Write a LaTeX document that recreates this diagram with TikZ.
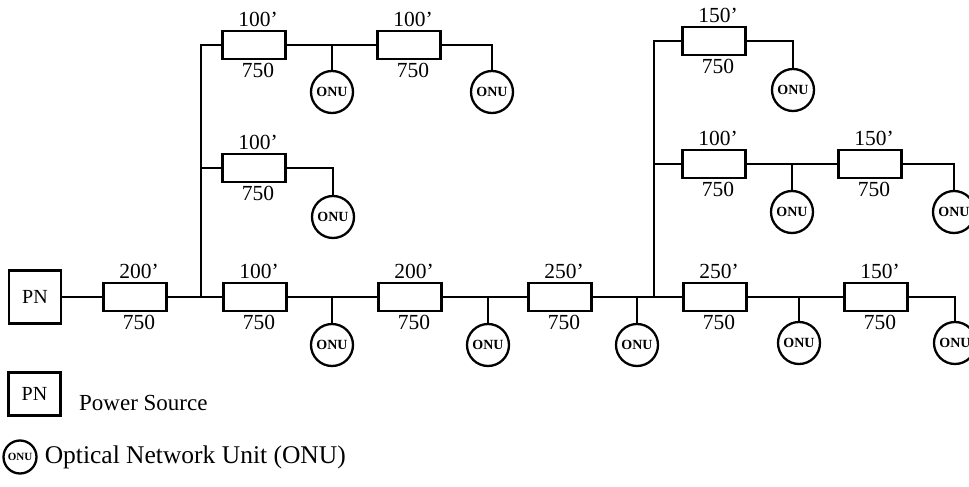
\documentclass[tikz,border=0pt]{standalone}
\usepackage{fontspec}
\setmainfont{Liberation Serif}
\usetikzlibrary{positioning}

\begin{document}
\begin{tikzpicture}[
    x=1pt,y=-1pt,
    line width=2.3pt,
    res/.style={draw,minimum width=63pt,minimum height=28pt,inner sep=0pt},
    onu/.style={draw,circle,minimum size=42pt,inner sep=0pt,font=\fontsize{14}{14}\selectfont\bfseries},
    pn/.style={draw,minimum width=52pt,minimum height=53pt,inner sep=0pt,font=\fontsize{20}{20}\selectfont},
    len/.style={font=\fontsize{21.5}{21.5}\selectfont,inner sep=1.5pt,xshift=4pt},
    txt/.style={font=\fontsize{23}{23}\selectfont,inner sep=0pt}
]
\useasboundingbox (0,0) rectangle (969,487);

% main feeder
\node[pn] (pn) at (35,297) {PN};
\node[res,label={[len]above:200'},label={[len]below:750}] (r1) at (135,297) {};
\coordinate (j0) at (201,297);
\node[res,label={[len]above:100'},label={[len]below:750}] (r2) at (255,297) {};
\node[onu] (onu1) at (332,345) {ONU};
\node[res,label={[len]above:200'},label={[len]below:750}] (r3) at (410,297) {};
\node[onu] (onu2) at (488,345) {ONU};
\node[res,label={[len]above:250'},label={[len]below:750}] (r4) at (560,297) {};
\node[onu] (onu3) at (637,345) {ONU};
\coordinate (j1) at (654,297);
\node[res,label={[len]above:250'},label={[len]below:750}] (r5) at (715,297) {};
\node[onu] (onu4) at (799,343) {ONU};
\node[res,label={[len]above:150'},label={[len]below:750}] (r6) at (876,297) {};
\node[onu] (onu5) at (955,343) {ONU};

% left branches
\node[res,label={[len]above:100'},label={[len]below:750}] (r7) at (254,45) {};
\node[onu] (onu6) at (332,92) {ONU};
\node[res,label={[len]above:100'},label={[len]below:750}] (r8) at (409,45) {};
\node[onu] (onu7) at (492,92) {ONU};
\node[res,label={[len]above:100'},label={[len]below:750}] (r9) at (254,168) {};
\node[onu] (onu8) at (333,217) {ONU};

% right branches
\node[res,label={[len]above:150'},label={[len]below:750}] (r10) at (714,41) {};
\node[onu] (onu9) at (793,90) {ONU};
\node[res,label={[len]above:100'},label={[len]below:750}] (r11) at (714,164) {};
\node[onu] (onu10) at (792,212) {ONU};
\node[res,label={[len]above:150'},label={[len]below:750}] (r12) at (870,164) {};
\node[onu] (onu11) at (954,212) {ONU};

\draw (pn) -- (r1);
\draw (r1) -- (r2);
\draw (r2) -- (r3);
\draw (r3) -- (r4);
\draw (r4) -- (r5);
\draw (r5) -- (r6);
\draw (r6) -| (onu5);
\draw (onu1) -- (onu1 |- r2);
\draw (onu2) -- (onu2 |- r3);
\draw (onu3) -- (onu3 |- r4);
\draw (onu4) -- (onu4 |- r5);

\draw (j0) |- (r7);
\draw (j0 |- r9) -- (r9);
\draw (r7) -- (r8);
\draw (onu6) -- (onu6 |- r7);
\draw (r8) -| (onu7);
\draw (r9) -| (onu8);

\draw (j1) |- (r10);
\draw (j1 |- r11) -- (r11);
\draw (r10) -| (onu9);
\draw (r11) -- (r12);
\draw (onu10) -- (onu10 |- r11);
\draw (r12) -| (onu11);

% legend
\node[pn,minimum height=43pt] (lpn) at (34.5,394) {PN};
\node[txt,anchor=west] (lpntxt) at (78,403) {Power Source};
\node[onu,minimum size=33pt,font=\fontsize{11}{11}\selectfont\bfseries] (lonu) at (20,457) {ONU};
\node[txt,right=6pt of lonu,font=\fontsize{25.5}{25.5}\selectfont] (lonutxt) {Optical Network Unit (ONU)};
\end{tikzpicture}
\end{document}
